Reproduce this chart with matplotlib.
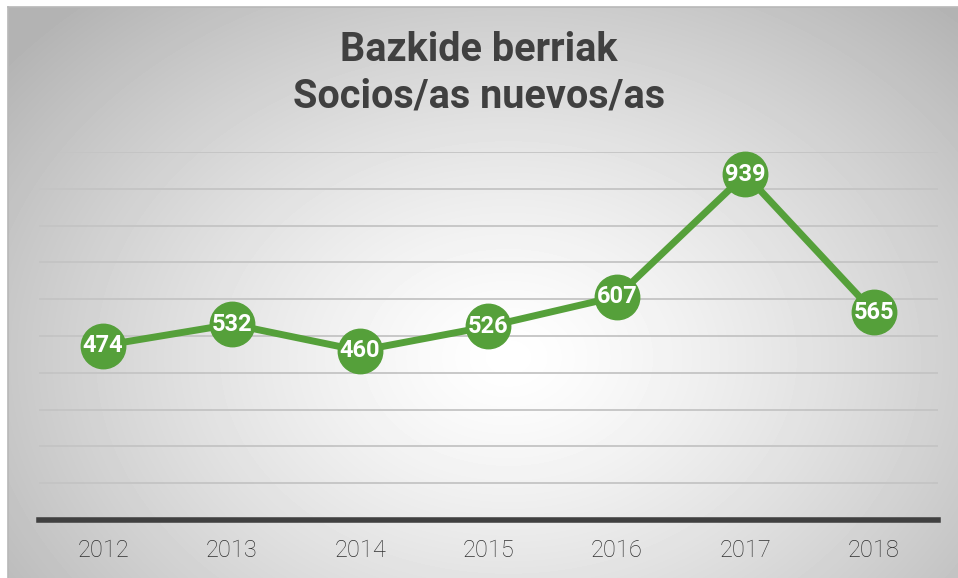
import numpy as np
import matplotlib.pyplot as plt

# data
years = ['2012', '2013', '2014', '2015', '2016', '2017', '2018']
socios = [474, 532, 460, 526, 607, 939, 565]
grid_ticks = [0, 100, 200, 300, 400, 500, 600, 700, 800, 900, 1000]

green = '#55a03a'
dark = '#404040'

fig = plt.figure(figsize=(9.58, 5.78), dpi=100)

# radial gradient background (box starts at x=8, y=7 px)
bg = fig.add_axes([8/958, 0, 950/958, 571/578])
bg.set_axis_off()
h, w = 571, 950
yy, xx = np.mgrid[0:h, 0:w]
cx, cy = 500, 350
r = np.sqrt(((xx - cx) / 560.0) ** 2 + ((yy - cy) / 420.0) ** 2)
shade = 1.0 - 0.25 * np.clip(r, 0, 1.15) ** 1.3
bg.imshow(shade, cmap='gray', vmin=0, vmax=1, aspect='auto', interpolation='bilinear')
fig.add_artist(plt.Line2D([8/958, 8/958], [0, 571/578], color='#b8b8b8', lw=1.2))
fig.add_artist(plt.Line2D([8/958, 1], [571/578, 571/578], color='#b8b8b8', lw=1.2))

ax = fig.add_axes([39/958, 1 - 520/578, 899/958, 368/578])
ax.patch.set_visible(False)
x = np.arange(len(years))
ax.set_xlim(-0.5, len(years) - 0.5)
ax.set_ylim(0, 1000)

for t in grid_ticks[1:]:
    ax.axhline(t, color='#c4c4c4', lw=1.3, zorder=1)
ax.axhline(0, color=dark, lw=4, zorder=2, clip_on=False)

ax.plot(x, socios, color=green, lw=5, marker='o', markersize=32,
        markerfacecolor=green, markeredgecolor=green, zorder=3, clip_on=False)
for xi, v in zip(x, socios):
    ax.text(xi, v, str(v), ha='center', va='center', color='white',
            fontsize=17, fontweight='bold', family='Roboto', zorder=4)

ax.set_xticks(x)
ax.set_xticklabels(years, fontsize=17, color='#303030', family='Roboto', fontweight='light')
ax.set_yticks([])
ax.tick_params(axis='x', length=0, pad=14)
for s in ax.spines.values():
    s.set_visible(False)

fig.text(0.5, 1 - 50/578, 'Bazkide berriak', ha='center', va='center',
         fontsize=28.5, fontweight='bold', color=dark, family='Roboto')
fig.text(0.5, 1 - 97/578, 'Socios/as nuevos/as', ha='center', va='center',
         fontsize=28.5, fontweight='bold', color=dark, family='Roboto')

fig.savefig('out.png', dpi=100)
